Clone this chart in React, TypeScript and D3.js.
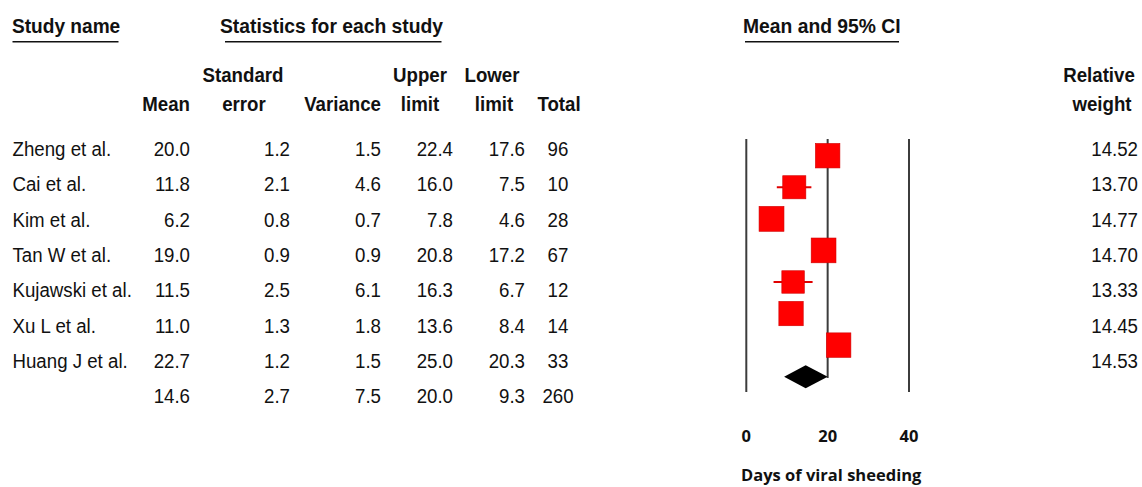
import React from "react";
import * as d3 from "d3";

const studies = ["Zheng et al.", "Cai et al.", "Kim et al.", "Tan W et al.", "Kujawski et al.", "Xu L et al.", "Huang J et al."];
const means = [20.0, 11.8, 6.2, 19.0, 11.5, 11.0, 22.7];
const stdErrors = [1.2, 2.1, 0.8, 0.9, 2.5, 1.3, 1.2];
const variances = [1.5, 4.6, 0.7, 0.9, 6.1, 1.8, 1.5];
const upperLimits = [22.4, 16.0, 7.8, 20.8, 16.3, 13.6, 25.0];
const lowerLimits = [17.6, 7.5, 4.6, 17.2, 6.7, 8.4, 20.3];
const totals = [96, 10, 28, 67, 12, 14, 33];
const weights = [14.52, 13.70, 14.77, 14.70, 13.33, 14.45, 14.53];

const summaryMean = 14.6;
const summarySE = 2.7;
const summaryVariance = 7.5;
const summaryUpper = 20.0;
const summaryLower = 9.3;
const summaryTotal = 260;

const axisTicks = [0, 20, 40];
const axisTitle = "Days of viral sheeding";

const W = 1142;
const H = 487;
const TABLE_FONT = "'Liberation Sans', Arial, sans-serif";
const AXIS_FONT = "'Open Sans', sans-serif";
const SX = 0.89;

function T({ x, y, anchor = "start", sx = SX, children }: { x: number; y: number; anchor?: string; sx?: number; children: any }) {
  return (
    <text transform={`translate(${x},${y}) scale(${sx},1)`} textAnchor={anchor}>
      {children}
    </text>
  );
}

export default function App() {
  const x = d3.scaleLinear().domain([0, 40]).range([746.3, 909]);
  const textRow = d3.scalePoint<number>().domain(d3.range(8)).range([156, 403.3]);
  const plotRow = d3.scalePoint<number>().domain(d3.range(8)).range([155.7, 376.7]);
  const sizeScale = d3.scaleLinear().domain([0, 15]).range([0, 25.3]);

  const fmt1 = d3.format(".1f");
  const fmt2 = d3.format(".2f");

  const cols = [
    { x: 190, anchor: "end", vals: means, sum: summaryMean, f: fmt1 },
    { x: 290, anchor: "end", vals: stdErrors, sum: summarySE, f: fmt1 },
    { x: 381, anchor: "end", vals: variances, sum: summaryVariance, f: fmt1 },
    { x: 453, anchor: "end", vals: upperLimits, sum: summaryUpper, f: fmt1 },
    { x: 525, anchor: "end", vals: lowerLimits, sum: summaryLower, f: fmt1 },
    { x: 558, anchor: "middle", vals: totals, sum: summaryTotal, f: (v: number) => String(v) },
  ];

  const lineColor = "#3c3c3c";
  const yTop = 139;
  const yBottom = 392;

  const cyD = plotRow(7)!;
  const diamond =
    d3.line()([
      [x(summaryLower), cyD],
      [x(summaryMean), cyD - 11.5],
      [x(summaryUpper), cyD],
      [x(summaryMean), cyD + 11.5],
    ]) + "Z";

  return (
    <svg width={W} height={H} style={{ position: "absolute", left: 0, top: 0, background: "#fff" }}>
      <g fontFamily={TABLE_FONT} fill="#111">
        {/* Section titles */}
        <g fontWeight="bold" fontSize={21}>
          <T x={12} y={33} sx={0.91}>Study name</T>
          <T x={220} y={33} sx={0.92}>Statistics for each study</T>
          <T x={743} y={33} sx={0.92}>Mean and 95% CI</T>
        </g>
        <g stroke="#111" strokeWidth={1.6}>
          <line x1={12.5} x2={118.5} y1={41.7} y2={41.7} />
          <line x1={225} x2={441.5} y1={41.7} y2={41.7} />
          <line x1={745} x2={899} y1={41.7} y2={41.7} />
        </g>
        {/* Column headers */}
        <g fontWeight="bold" fontSize={21}>
          <T x={243} y={82} anchor="middle">Standard</T>
          <T x={420} y={82} anchor="middle">Upper</T>
          <T x={492} y={82} anchor="middle">Lower</T>
          <T x={1099} y={82} anchor="middle">Relative</T>
          <T x={190} y={110.5} anchor="end">Mean</T>
          <T x={244} y={110.5} anchor="middle">error</T>
          <T x={381} y={110.5} anchor="end">Variance</T>
          <T x={420} y={110.5} anchor="middle">limit</T>
          <T x={494} y={110.5} anchor="middle">limit</T>
          <T x={559} y={110.5} anchor="middle">Total</T>
          <T x={1102} y={110.5} anchor="middle">weight</T>
        </g>
        {/* Rows */}
        <g fontSize={21}>
          {studies.map((s, i) => (
            <T key={"n" + i} x={12.5} y={textRow(i)!}>{s}</T>
          ))}
          {cols.map((c, ci) => (
            <g key={"c" + ci}>
              {c.vals.map((v, i) => (
                <T key={i} x={c.x} y={textRow(i)!} anchor={c.anchor}>{c.f(v)}</T>
              ))}
              <T x={c.x} y={textRow(7)!} anchor={c.anchor}>{c.f(c.sum)}</T>
            </g>
          ))}
          {weights.map((w, i) => (
            <T key={"w" + i} x={1138} y={textRow(i)!} anchor="end">{fmt2(w)}</T>
          ))}
        </g>
      </g>

      {/* Forest plot */}
      <g stroke={lineColor} strokeWidth={2}>
        <line x1={x(0)} x2={x(0)} y1={yTop} y2={yBottom} />
        <line x1={x(20)} x2={x(20)} y1={yTop} y2={378} />
        <line x1={x(40)} x2={x(40)} y1={yTop} y2={yBottom} />
      </g>
      <g>
        {means.map((m, i) => {
          const s = sizeScale(weights[i]);
          const cy = plotRow(i)!;
          return (
            <g key={"p" + i}>
              <line x1={x(lowerLimits[i])} x2={x(upperLimits[i])} y1={cy} y2={cy} stroke="#e00000" strokeWidth={2.2} />
              <rect x={x(m) - s / 2} y={cy - s / 2} width={s} height={s} fill="#ff0000" stroke="#d00000" strokeWidth={0.6} />
            </g>
          );
        })}
        <path d={diamond} fill="#000" />
      </g>

      {/* Axis labels */}
      <g fontFamily={AXIS_FONT} fontWeight={700} fill="#111">
        {axisTicks.map((t) => (
          <text key={t} x={x(t)} y={441.7} fontSize={16.5} textAnchor="middle">{t}</text>
        ))}
        <text x={741} y={481} fontSize={16.5}>{axisTitle}</text>
      </g>
    </svg>
  );
}
